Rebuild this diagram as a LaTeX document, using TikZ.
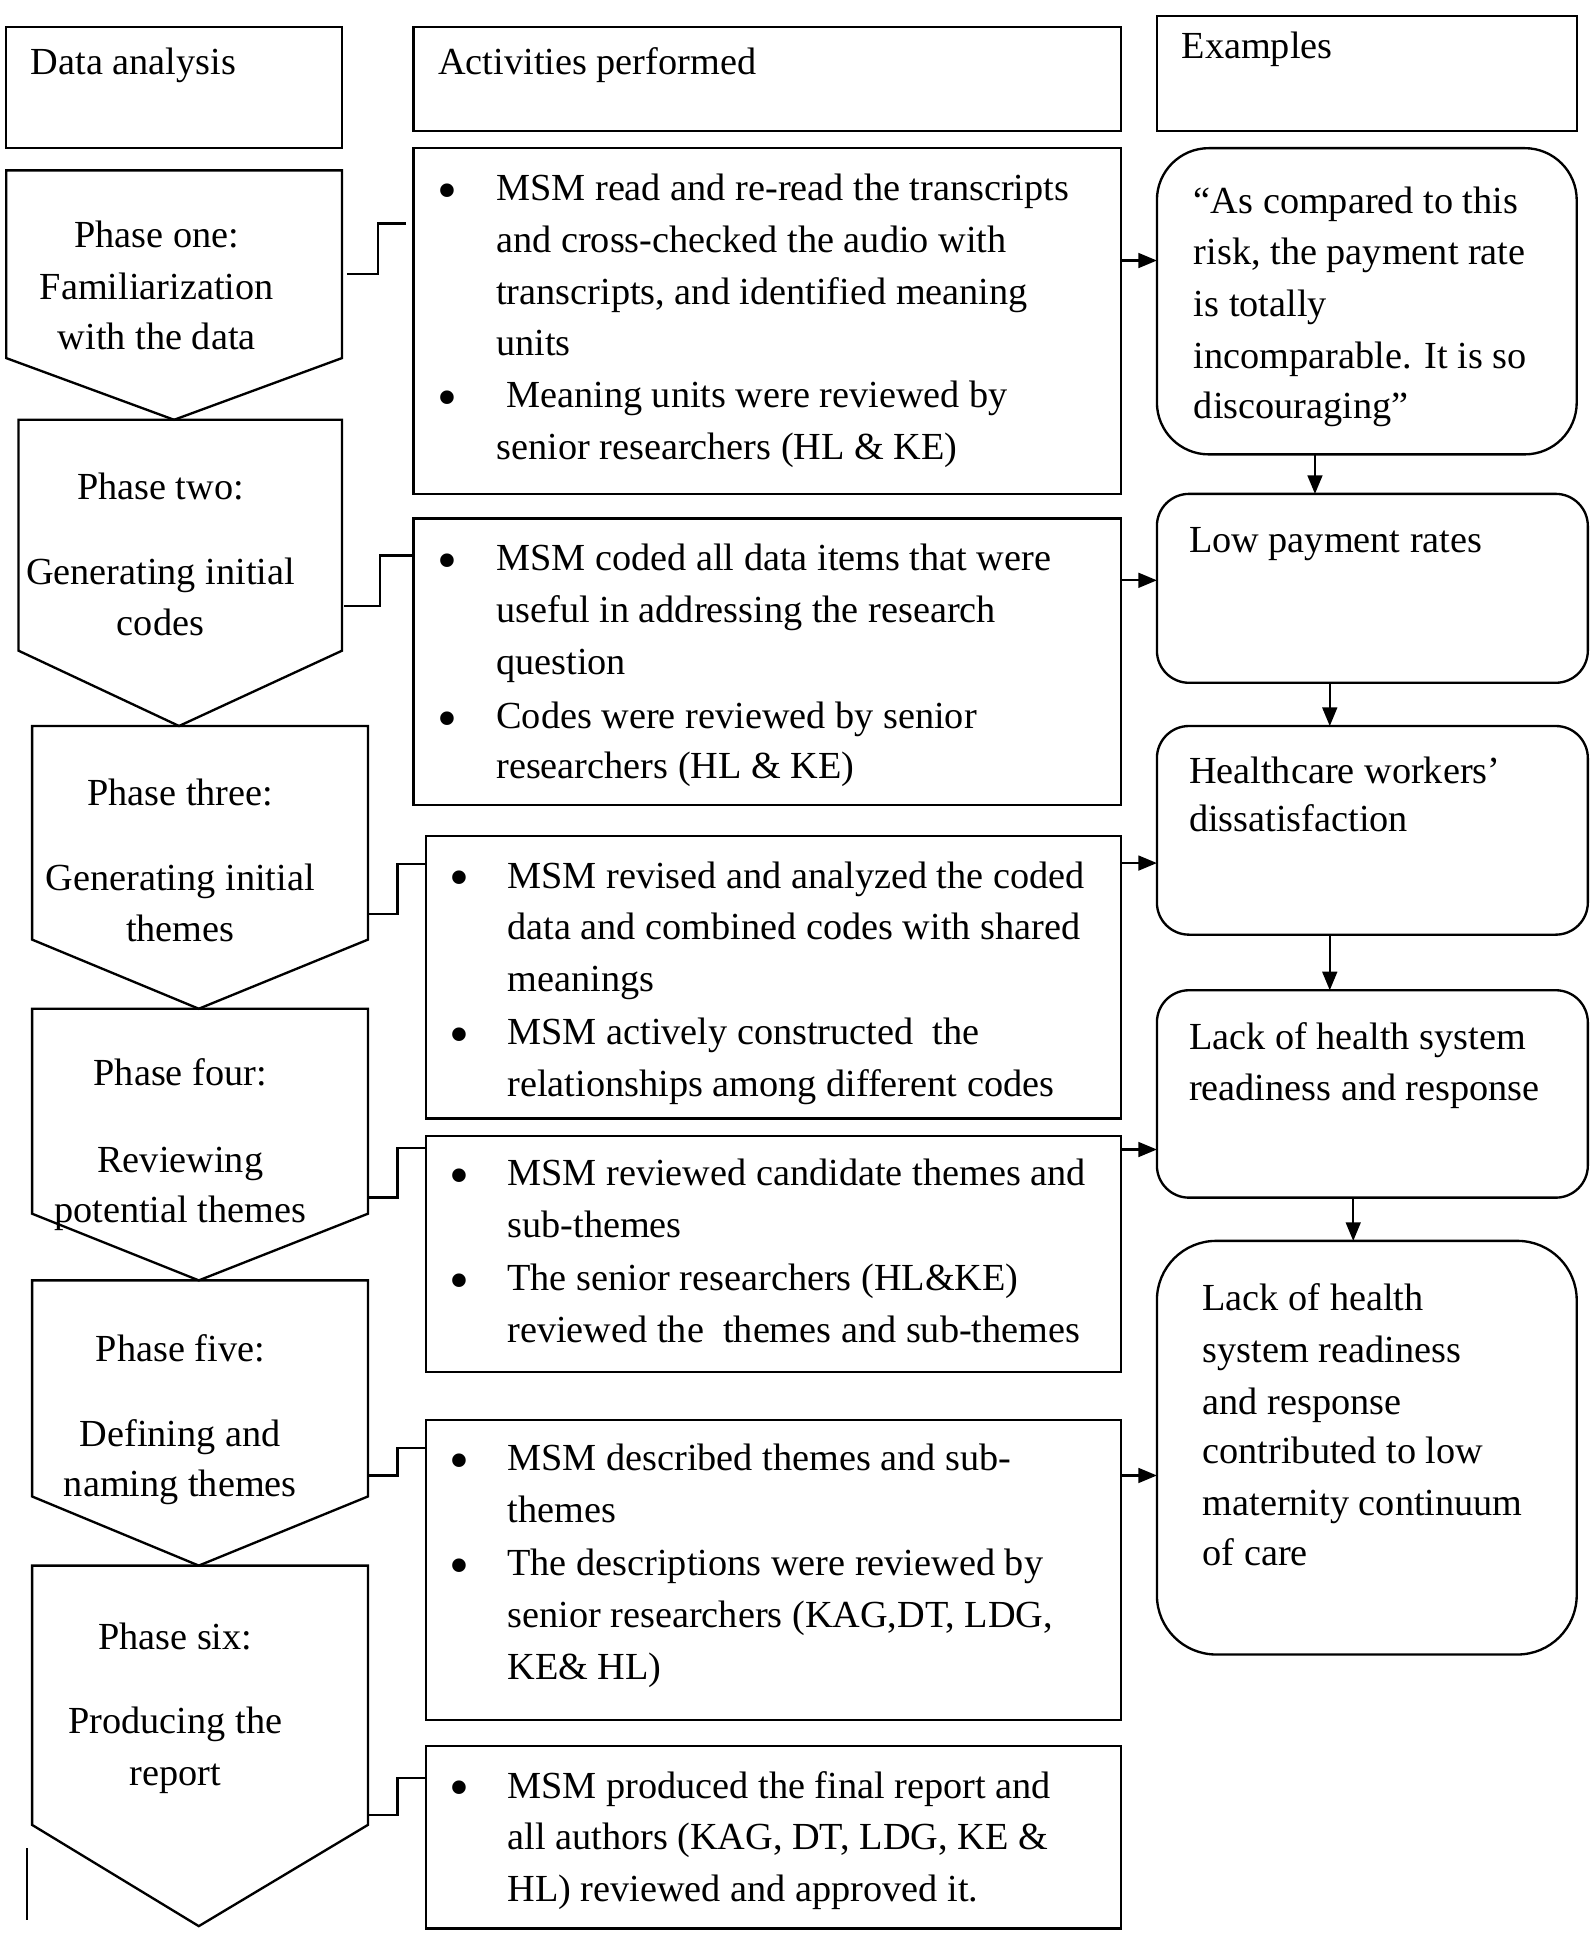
\documentclass[tikz,border=0pt]{standalone}
\usepackage{fontspec}
\setmainfont{Liberation Serif}
\usetikzlibrary{arrows.meta}
\newcommand\myfs{\fontsize{31}{42}\selectfont}
\newcommand\bulfs{\fontsize{46}{42}\selectfont}
\begin{document}
\begin{tikzpicture}[x=1pt,y=-1pt,
  every node/.style={inner sep=0pt,outer sep=0pt},
  ln/.style={line width=1.9pt},
  sq/.style={draw,line width=1.9pt,rectangle,anchor=north west},
  rnd/.style={draw,line width=1.9pt,rectangle,anchor=north west,rounded corners=#1},
  lt/.style={font=\myfs,anchor=mid west,yshift=-8pt},
  ct/.style={font=\myfs,anchor=mid,yshift=-8pt},
  bul/.style={font=\bulfs,anchor=center,yshift=-7pt},
  arr/.style={line width=1.7pt,-{Triangle[length=15pt,width=12pt]}},
  elb/.style={line width=1.9pt}]
\useasboundingbox (0,0) rectangle (1290,1568);
\fill[white] (0,0) rectangle (1290,1568);

% headers
\node[sq,minimum width=272pt,minimum height=98pt] (H1) at (5,22) {};
\node[sq,minimum width=573pt,minimum height=84pt] (H2) at (335,22) {};
\node[sq,minimum width=340pt,minimum height=93pt] (H3) at (937,13) {};
\node[lt] (h1t) at (25,50) {Data analysis};
\node[lt] (h2t) at (355,50) {Activities performed};
\node[lt] (h3t) at (957,37) {Examples};

% phase shapes
\draw[ln] (5,138) -- (277,138) -- (277,290) -- (141,340) -- (5,290) -- cycle;
\draw[ln] (15,340) -- (277,340) -- (277,527) -- (145,588) -- (15,527) -- cycle;
\draw[ln] (26,588) -- (298,588) -- (298,761) -- (161,817) -- (26,761) -- cycle;
\draw[ln] (26,817) -- (298,817) -- (298,983) -- (161,1037) -- (26,983) -- cycle;
\draw[ln] (26,1037) -- (298,1037) -- (298,1212) -- (161,1268) -- (26,1212) -- cycle;
\draw[ln] (26,1268) -- (298,1268) -- (298,1478) -- (161,1560) -- (26,1478) -- cycle;
\draw[line width=1.2pt] (22,1497) -- (22,1555);

% phase texts
\node[ct] (p1a) at (127,190) {Phase one:};
\node[ct] (p1b) at (127,232) {Familiarization};
\node[ct] (p1c) at (127,273) {with the data};
\node[ct] (p2a) at (130,394) {Phase two:};
\node[ct] (p2b) at (130,463) {Generating initial};
\node[ct] (p2c) at (130,504) {codes};
\node[ct] (p3a) at (146,642) {Phase three:};
\node[ct] (p3b) at (146,711) {Generating initial};
\node[ct] (p3c) at (146,752) {themes};
\node[ct] (p4a) at (146,869) {Phase four:};
\node[ct] (p4b) at (146,939) {Reviewing};
\node[ct] (p4c) at (146,980) {potential themes};
\node[ct] (p5a) at (146,1092) {Phase five:};
\node[ct] (p5b) at (146,1161) {Defining and};
\node[ct] (p5c) at (146,1202) {naming themes};
\node[ct] (p6a) at (142,1326) {Phase six:};
\node[ct] (p6b) at (142,1394) {Producing the};
\node[ct] (p6c) at (142,1436) {report};

% activity boxes
\node[sq,minimum width=573pt,minimum height=280pt] (A1) at (335,120) {};
\node[sq,minimum width=573pt,minimum height=232pt] (A2) at (335,420) {};
\node[sq,minimum width=563pt,minimum height=229pt] (A3) at (345,677) {};
\node[sq,minimum width=563pt,minimum height=191pt] (A4) at (345,920) {};
\node[sq,minimum width=563pt,minimum height=243pt] (A5) at (345,1150) {};
\node[sq,minimum width=563pt,minimum height=148pt] (A6) at (345,1414) {};

% A1 text
\node[bul] (b11) at (362,152) {\textbullet};
\node[lt] (a11) at (402,152) {MSM read and re-read the transcripts};
\node[lt] (a12) at (402,194) {and cross-checked the audio with};
\node[lt] (a13) at (402,236) {transcripts, and identified meaning};
\node[lt] (a14) at (402,278) {units};
\node[bul] (b12) at (362,320) {\textbullet};
\node[lt] (a15) at (410,320) {Meaning units were reviewed by};
\node[lt] (a16) at (402,362) {senior researchers (HL \& KE)};
% A2 text
\node[bul] (b21) at (362,452) {\textbullet};
\node[lt] (a21) at (402,452) {MSM coded all data items that were};
\node[lt] (a22) at (402,494) {useful in addressing the research};
\node[lt] (a23) at (402,536) {question};
\node[bul] (b22) at (362,580) {\textbullet};
\node[lt] (a24) at (402,580) {Codes were reviewed by senior};
\node[lt] (a25) at (402,620) {researchers (HL \& KE)};
% A3 text
\node[bul] (b31) at (372,709) {\textbullet};
\node[lt] (a31) at (411,709) {MSM revised and analyzed the coded};
\node[lt] (a32) at (411,751) {data and combined codes with shared};
\node[lt] (a33) at (411,793) {meanings};
\node[bul] (b32) at (372,836) {\textbullet};
\node[lt] (a34) at (411,836) {MSM actively constructed\ \ the};
\node[lt] (a35) at (411,878) {relationships among different codes};
% A4 text
\node[bul] (b41) at (372,950) {\textbullet};
\node[lt] (a41) at (411,950) {MSM reviewed candidate themes and};
\node[lt] (a42) at (411,992) {sub-themes};
\node[bul] (b42) at (372,1035) {\textbullet};
\node[lt] (a43) at (411,1035) {The senior researchers (HL\&KE)};
\node[lt] (a44) at (411,1077) {reviewed the\ \ themes and sub-themes};
% A5 text
\node[bul] (b51) at (372,1181) {\textbullet};
\node[lt] (a51) at (411,1181) {MSM described themes and sub-};
\node[lt] (a52) at (411,1223) {themes};
\node[bul] (b52) at (372,1266) {\textbullet};
\node[lt] (a53) at (411,1266) {The descriptions were reviewed by};
\node[lt] (a54) at (411,1308) {senior researchers (KAG,DT, LDG,};
\node[lt] (a55) at (411,1350) {KE\& HL)};
% A6 text
\node[bul] (b61) at (372,1446) {\textbullet};
\node[lt] (a61) at (411,1446) {MSM produced the final report and};
\node[lt] (a62) at (411,1488) {all authors (KAG, DT, LDG, KE \&};
\node[lt] (a63) at (411,1530) {HL) reviewed and approved it.};

% example boxes
\node[rnd=42pt,minimum width=340pt,minimum height=248pt] (E1) at (937,120) {};
\node[rnd=26pt,minimum width=349pt,minimum height=153pt] (E2) at (937,400) {};
\node[rnd=26pt,minimum width=349pt,minimum height=169pt] (E3) at (937,588) {};
\node[rnd=26pt,minimum width=349pt,minimum height=168pt] (E4) at (937,802) {};
\node[rnd=48pt,minimum width=340pt,minimum height=335pt] (E5) at (937,1005) {};

\node[lt] (e11) at (967,163) {“As compared to this};
\node[lt] (e12) at (967,204) {risk, the payment rate};
\node[lt] (e13) at (967,246) {is totally};
\node[lt] (e14) at (967,288) {incomparable. It is so};
\node[lt] (e15) at (967,329) {discouraging”};
\node[lt] (e21) at (963,437) {Low payment rates};
\node[lt] (e31) at (963,624) {Healthcare workers’};
\node[lt] (e32) at (963,663) {dissatisfaction};
\node[lt] (e41) at (963,840) {Lack of health system};
\node[lt] (e42) at (963,881) {readiness and response};
\node[lt] (e51) at (974,1051) {Lack of health};
\node[lt] (e52) at (974,1093) {system readiness};
\node[lt] (e53) at (974,1135) {and response};
\node[lt] (e54) at (974,1175) {contributed to low};
\node[lt] (e55) at (974,1217) {maternity continuum};
\node[lt] (e56) at (974,1258) {of care};

% horizontal arrows activities -> examples
\coordinate (r1) at (908,211);
\coordinate (r2) at (908,470);
\coordinate (r3) at (908,699);
\coordinate (r4) at (908,931);
\coordinate (r5) at (908,1195);
\draw[arr] (r1) -- (r1 -| E1.west);
\draw[arr] (r2) -- (r2 -| E2.west);
\draw[arr] (r3) -- (r3 -| E3.west);
\draw[arr] (r4) -- (r4 -| E4.west);
\draw[arr] (r5) -- (r5 -| E5.west);

% vertical arrows between examples
\coordinate (v1) at (1065,368);
\coordinate (v2) at (1077,553);
\coordinate (v3) at (1077,757);
\coordinate (v4) at (1096,970);
\draw[arr] (v1) -- (v1 |- E2.north);
\draw[arr] (v2) -- (v2 |- E3.north);
\draw[arr] (v3) -- (v3 |- E4.north);
\draw[arr] (v4) -- (v4 |- E5.north);

% elbow connectors phases -> activities
\coordinate (q1) at (281,222);
\coordinate (q2) at (279,491);
\coordinate (q3) at (298,740);
\coordinate (q4) at (298,970);
\coordinate (q5) at (298,1195);
\coordinate (q6) at (298,1470);
\coordinate (t1) at (329,181);
\coordinate (t2) at (335,450);
\coordinate (t3) at (345,700);
\coordinate (t4) at (345,930);
\coordinate (t5) at (345,1173);
\coordinate (t6) at (345,1440);
\draw[elb] (q1) -- ++(25,0) |- (t1);
\draw[elb] (q2) -- ++(29,0) |- (t2);
\draw[elb] (q3) -- ++(24,0) |- (t3);
\draw[elb] (q4) -- ++(24,0) |- (t4);
\draw[elb] (q5) -- ++(24,0) |- (t5);
\draw[elb] (q6) -- ++(24,0) |- (t6);
\end{tikzpicture}
\end{document}
